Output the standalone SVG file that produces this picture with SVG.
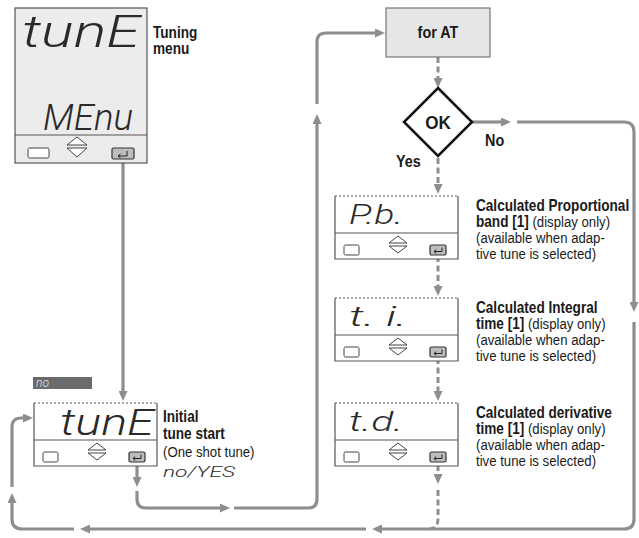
<svg xmlns="http://www.w3.org/2000/svg" width="639" height="538" viewBox="0 0 639 538">
<defs>
<style>
.line{fill:none;stroke:#555;stroke-width:1.2}
.dot{fill:none;stroke:#555;stroke-width:1.2;stroke-dasharray:2 2}
.btn{fill:#fff;stroke:#444;stroke-width:1}
.tri{fill:#fff;stroke:#444;stroke-width:1}
.ent{fill:#bdbdbd;stroke:#333;stroke-width:1.2}
.sym{fill:none;stroke:#222;stroke-width:1}
.seg{font-family:Roboto,"DejaVu Sans",sans-serif;font-style:italic;font-weight:300;fill:#2a2a2a}
.b{font-family:"Liberation Sans",Arial,sans-serif;font-weight:bold;font-size:16px;fill:#1a1a1a}
.r{font-family:"Liberation Sans",Arial,sans-serif;font-weight:normal;font-size:15.5px;fill:#1a1a1a}
.c{fill:none;stroke:#8e8e8e;stroke-width:3.2}
.d{fill:none;stroke:#8e8e8e;stroke-width:3;stroke-dasharray:6 3.5}
</style>
<marker id="a" viewBox="0 0 10 9" refX="2" refY="4.5" markerWidth="10" markerHeight="9" markerUnits="userSpaceOnUse" orient="auto"><path d="M0,0 L10,4.5 L0,9 Z" fill="#8e8e8e"/></marker>
<g id="row">
<rect class="btn" x="9" y="49" width="15" height="10" rx="1.5"/>
<path class="tri" d="M54,47 L63,40 L72,47 Z"/>
<path class="tri" d="M54,50 L72,50 L63,57 Z"/>
<rect class="ent" x="95" y="49" width="16" height="10" rx="1.5"/>
<path class="sym" d="M107,51.5 V55.5 H99 M101.2,53.6 L99,55.5 L101.2,57.4"/>
</g>
<g id="frame">
<rect x="0" y="0" width="123" height="63" fill="#fff"/>
<path class="line" d="M0,0 V63 H123 V0"/>
<path class="dot" d="M0,0 H123"/>
<path class="line" d="M0,37 H123"/>
<use href="#row"/>
</g>
</defs>
<rect width="639" height="538" fill="#fff"/>

<g id="connectors">
<path class="c" d="M123,163 V393" marker-end="url(#a)"/>
<path class="c" d="M137,462 V479" marker-end="url(#a)"/>
<path class="c" d="M137,491 V499 Q137,508 146,508 H222" marker-end="url(#a)"/>
<path class="c" d="M234,508 H308 Q317,508 317,499 V122" marker-end="url(#a)"/>
<path class="c" d="M317,104 V42 Q317,33 326,33 H377" marker-end="url(#a)"/>
<path class="d" d="M438,57 V80" marker-end="url(#a)"/>
<path class="c" d="M472,122 H503" marker-end="url(#a)"/>
<path class="c" d="M517,122 H624 Q634,122 634,132 V304" marker-end="url(#a)"/>
<path class="c" d="M634,322 V519 Q634,529 624,529 H380" marker-end="url(#a)"/>
<path class="c" d="M366,529 H88" marker-end="url(#a)"/>
<path class="c" d="M74,529 H22 Q12,529 12,519 V501" marker-end="url(#a)"/>
<path class="c" d="M12,487 V427 Q12,418 21,418 H25" marker-end="url(#a)"/>
<path class="d" d="M438,158 V186" marker-end="url(#a)"/>
<path class="d" d="M438,256 V288" marker-end="url(#a)"/>
<path class="d" d="M438,358 V393" marker-end="url(#a)"/>
<path class="d" d="M438,465 V476" marker-end="url(#a)"/>
<path class="d" d="M438,490 V519 Q438,529 428,529"/>
</g>

<g id="tuning-menu">
<rect x="15" y="8" width="132" height="155" fill="#ececec" stroke="#555" stroke-width="1.2"/>
<path class="line" d="M15,135 H147"/>
<rect class="btn" x="28" y="148" width="21" height="10" rx="1.5"/>
<path class="tri" d="M67,145 L77,137 L87,145 Z"/>
<path class="tri" d="M67,148 L87,148 L77,157 Z"/>
<rect class="ent" x="112" y="148" width="22" height="11" rx="1.5"/>
<path class="sym" d="M127,151 V156 H118 M120.5,154 L118,156 L120.5,158"/>
<text class="seg" x="22" y="47" font-size="44" textLength="118" lengthAdjust="spacingAndGlyphs">tunE</text>
<text class="seg" x="43" y="130" font-size="36" textLength="90" lengthAdjust="spacingAndGlyphs">MEnu</text>
<text transform="translate(153 38) scale(0.85 1)" class="b"><tspan x="0" y="0">Tuning</tspan><tspan x="0" y="16">menu</tspan></text>
</g>

<g id="initial-tune">
<rect x="33" y="377" width="59" height="12" fill="#6b6b6b"/>
<text class="seg" x="36" y="387" font-size="12" style="fill:#e0e0e0">no</text>
<g transform="translate(34 403)">
<use href="#frame"/>
<text class="seg" x="26" y="32" font-size="36" textLength="94" lengthAdjust="spacingAndGlyphs">tunE</text>
</g>
<text transform="translate(163 422) scale(0.85 1)" class="b"><tspan x="0" y="0">Initial</tspan><tspan x="0" y="17">tune start</tspan><tspan class="r" x="0" y="35">(One shot tune)</tspan></text>
<text class="seg" x="163" y="477" font-size="14" textLength="72" lengthAdjust="spacingAndGlyphs">no/YES</text>
</g>

<g id="for-at">
<rect x="386" y="8" width="104" height="49" fill="#e6e6e6" stroke="#777" stroke-width="1.2"/>
<text transform="translate(438 38) scale(0.9 1)" class="b" text-anchor="middle">for AT</text>
</g>

<g id="ok">
<path d="M438,88 L472,122 L438,156 L404,122 Z" fill="#fff" stroke="#111" stroke-width="2.5"/>
<text transform="translate(438 129) scale(0.9 1)" class="b" style="font-size:19px" text-anchor="middle">OK</text>
<text transform="translate(485 146) scale(0.9 1)" class="b">No</text>
<text transform="translate(396 167) scale(0.9 1)" class="b">Yes</text>
</g>

<g id="pb">
<g transform="translate(335 196)">
<use href="#frame"/>
<text class="seg" x="14" y="28" font-size="28" textLength="54" lengthAdjust="spacingAndGlyphs">P.b.</text>
</g>
<text transform="translate(476 211) scale(0.85 1)" class="r"><tspan class="b" x="0" y="0">Calculated Proportional</tspan><tspan class="b" x="0" y="16">band [1]</tspan><tspan class="r"> (display only)</tspan><tspan class="r" x="0" y="32">(available when adap-</tspan><tspan class="r" x="0" y="48">tive tune is selected)</tspan></text>
</g>

<g id="ti">
<g transform="translate(335 298)">
<use href="#frame"/>
<text class="seg" x="14" y="28" font-size="28" textLength="58" lengthAdjust="spacingAndGlyphs">t. i.</text>
</g>
<text transform="translate(476 313) scale(0.85 1)" class="r"><tspan class="b" x="0" y="0">Calculated Integral</tspan><tspan class="b" x="0" y="16">time [1]</tspan><tspan class="r"> (display only)</tspan><tspan class="r" x="0" y="32">(available when adap-</tspan><tspan class="r" x="0" y="48">tive tune is selected)</tspan></text>
</g>

<g id="td">
<g transform="translate(335 403)">
<use href="#frame"/>
<text class="seg" x="14" y="28" font-size="28" textLength="54" lengthAdjust="spacingAndGlyphs">t.d.</text>
</g>
<text transform="translate(476 418) scale(0.85 1)" class="r"><tspan class="b" x="0" y="0">Calculated derivative</tspan><tspan class="b" x="0" y="16">time [1]</tspan><tspan class="r"> (display only)</tspan><tspan class="r" x="0" y="32">(available when adap-</tspan><tspan class="r" x="0" y="48">tive tune is selected)</tspan></text>
</g>
</svg>
